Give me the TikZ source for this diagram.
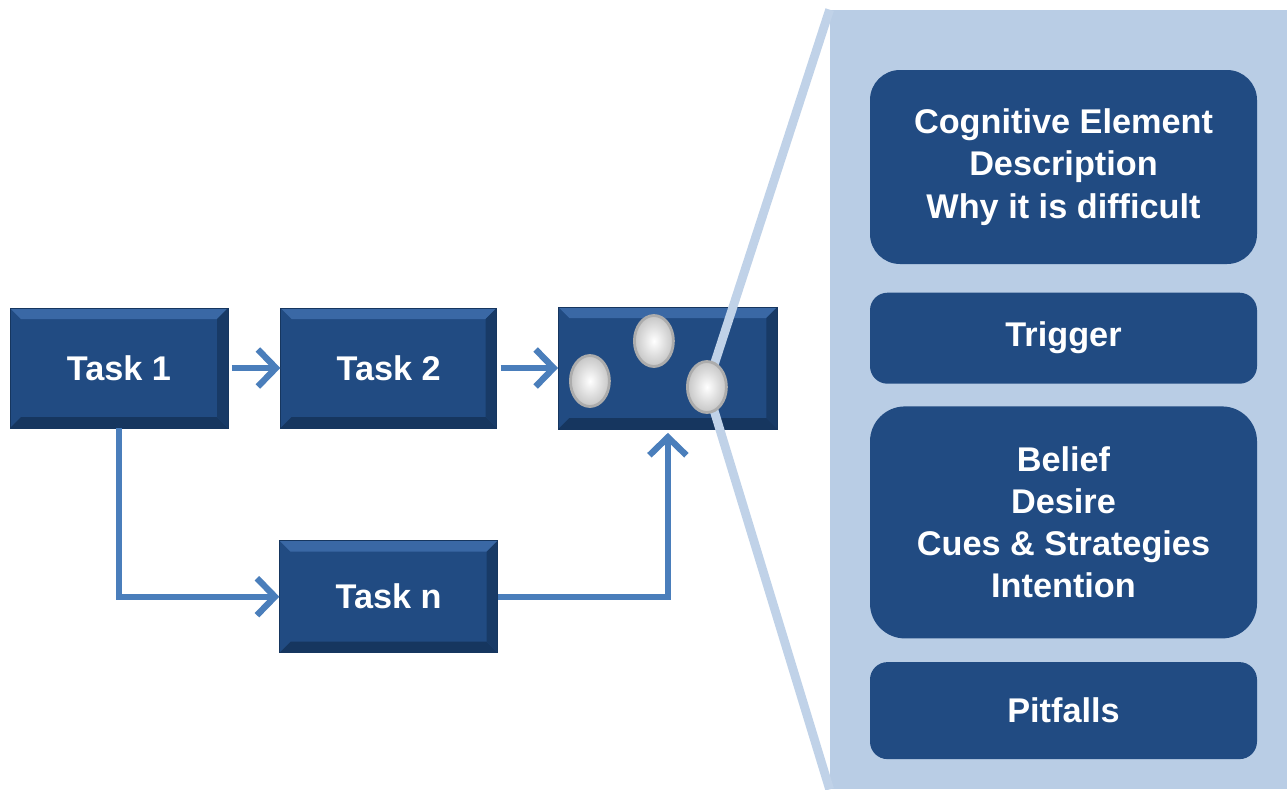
\documentclass[tikz,border=0pt]{standalone}
\usepackage{fontspec}
\setmainfont{Liberation Sans}
\usetikzlibrary{arrows.meta,positioning,shapes.geometric}

\definecolor{taskblue}{HTML}{214B82}
\definecolor{bevlight}{HTML}{3A68A5}
\definecolor{bevdark}{HTML}{16365F}
\definecolor{panelblue}{HTML}{B9CDE5}
\definecolor{arrowblue}{HTML}{4A7EBB}

\begin{document}
\begin{tikzpicture}[
  font=\fontsize{19.5}{24}\selectfont\bfseries,
  bevel/.style={path picture={
      \fill[bevlight] (path picture bounding box.north west) -- (path picture bounding box.north east)
        -- ([shift={(-2.2mm,-2.2mm)}]path picture bounding box.north east)
        -- ([shift={(2.2mm,-2.2mm)}]path picture bounding box.north west) -- cycle;
      \fill[bevdark] (path picture bounding box.south west) -- (path picture bounding box.south east)
        -- ([shift={(-2.2mm,2.2mm)}]path picture bounding box.south east)
        -- ([shift={(2.2mm,2.2mm)}]path picture bounding box.south west) -- cycle;
      \fill[bevdark!80!taskblue] (path picture bounding box.north east) -- (path picture bounding box.south east)
        -- ([shift={(-2.2mm,2.2mm)}]path picture bounding box.south east)
        -- ([shift={(-2.2mm,-2.2mm)}]path picture bounding box.north east) -- cycle;
  }},
  task/.style={draw=bevdark, fill=taskblue, text=white, align=center,
               minimum width=43.6mm, minimum height=24mm, inner sep=0pt, bevel},
  item/.style={fill=taskblue, text=white, align=center, minimum width=77.4mm, inner sep=0pt},
  panel/.style={fill=panelblue, minimum width=91.4mm, minimum height=155.8mm, inner sep=0pt},
  dot/.style={ellipse, minimum width=7.8mm, minimum height=10.2mm, inner sep=0pt,
              draw=gray!65, line width=1.6pt, inner color=white, outer color=gray!45},
  arr/.style={draw=arrowblue, line width=3.6pt, -{Straight Barb[length=3.6mm,width=7.4mm]}},
  zoomline/.style={draw=panelblue!90!white, line width=5pt}
]
  \fill[white] (0,0) rectangle (25.74,-15.78);
  \useasboundingbox (0,0) rectangle (25.74,-15.78);

  % right-hand panel
  \node[panel] (panel) at (21.17,-7.99) {};
  \node[item, minimum height=38.8mm, rounded corners=6mm] (cog) at (21.27,-3.34)
    {Cognitive Element\\Description\\Why it is difficult};
  \node[item, minimum height=18.2mm, rounded corners=3.5mm, below=5.6mm of cog] (trig) {Trigger};
  \node[item, minimum height=46.4mm, rounded corners=7mm, below=4.4mm of trig] (belief)
    {Belief\\Desire\\Cues \& Strategies\\Intention};
  \node[item, minimum height=19.4mm, rounded corners=3.5mm, below=4.6mm of belief] (pit) {Pitfalls};

  % task flow
  \node[task] (task1) at (2.38,-7.36) {Task 1};
  \node[task, minimum width=43.2mm, right=10.4mm of task1] (task2) {Task 2};
  \node[task, minimum width=43.8mm, minimum height=24.4mm, right=12.2mm of task2] (elem) {};
  \node[task, minimum height=22.4mm, below=22.4mm of task2] (taskn) {Task n};

  \draw[arr, shorten <=2pt] (task1) -- (task2);
  \draw[arr, shorten <=2pt] (task2) -- (elem);
  \draw[arr] (task1.south) |- (taskn.west);
  \draw[arr, shorten >=2pt] (taskn.east) -| (elem.south);

  % zoom callout
  \coordinate (hub) at ([shift={(0.78,-0.38)}]elem.center);
  \draw[zoomline] (hub) -- (panel.north west);
  \draw[zoomline] (hub) -- (panel.south west);

  \node[dot] (dotA) at ([shift={(-1.56,-0.26)}]elem.center) {};
  \node[dot] (dotB) at ([shift={(-0.28,0.54)}]elem.center) {};
  \node[dot] (dotC) at (hub) {};
\end{tikzpicture}
\end{document}
